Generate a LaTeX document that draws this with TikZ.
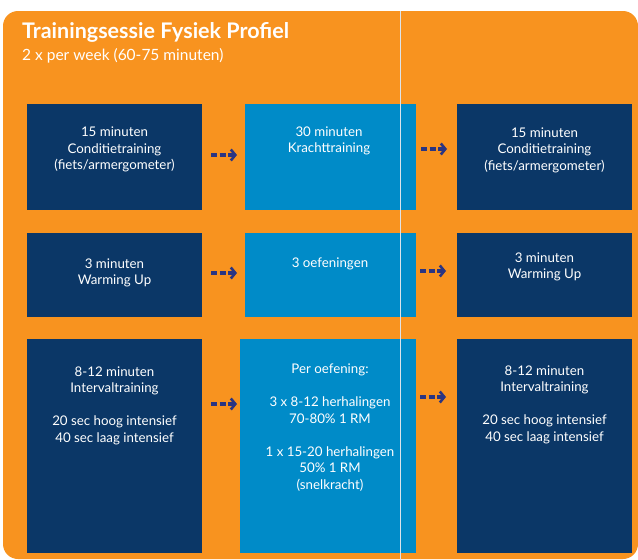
\documentclass[tikz,border=0pt]{standalone}
\usepackage{fontspec}
\setmainfont{Lato}
\usetikzlibrary{arrows.meta}
\definecolor{bgorange}{HTML}{F8931F}
\definecolor{navy}{HTML}{0B3767}
\definecolor{midblue}{HTML}{008BC8}
\definecolor{arrowc}{HTML}{2A3582}
\definecolor{vline}{HTML}{DCE3EA}
\begin{document}
\begin{tikzpicture}[x=1pt,y=-1pt,
 box/.style={draw=none, inner sep=0pt, outer sep=0pt, anchor=north west},
 dark/.style={box, fill=navy},
 light/.style={box, fill=midblue},
 txt/.style={text=white, font=\fontsize{13.3}{16.5}\selectfont, align=center, inner sep=0pt},
 arr/.style={draw=arrowc, line width=3.4pt, dash pattern=on 6pt off 2.5pt, -{Straight Barb[length=4.5pt,width=11pt,line width=2.6pt]}}]
\useasboundingbox (0,0) rectangle (638,560);
\fill[white] (0,0) rectangle (638,560);
\fill[bgorange, rounded corners=15pt] (3,11) rectangle (638,559);
% title
\node[anchor=base west, inner sep=0pt, text=white, font=\fontsize{21.5}{24}\selectfont\bfseries] (title) at (22,38) {Trainingsessie Fysiek Profiel};
\node[anchor=base west, inner sep=0pt, text=white, font=\fontsize{15.5}{18}\selectfont] (sub) at (22,60) {2 x per week (60-75 minuten)};
% boxes
\node[dark, minimum width=175pt, minimum height=106pt] (l1) at (27,104) {};
\node[light, minimum width=171pt, minimum height=106pt] (m1) at (245,104) {};
\node[dark, minimum width=175pt, minimum height=106pt] (r1) at (457,104) {};
\node[dark, minimum width=175pt, minimum height=84pt] (l2) at (27,233) {};
\node[light, minimum width=171pt, minimum height=84pt] (m2) at (245,233) {};
\node[dark, minimum width=175pt, minimum height=84pt] (r2) at (457,233) {};
\node[dark, minimum width=175pt, minimum height=214pt] (l3) at (27,339) {};
\node[light, minimum width=176pt, minimum height=214pt] (m3) at (240,339) {};
\node[dark, minimum width=175pt, minimum height=214pt] (r3) at (457,339) {};
% vertical line
\draw[vline, line width=1pt] (400,11) -- (400,560);
% texts
\node[txt] (tl1) at (114.5,149.5) {15 minuten\\Conditietraining\\(fiets/armergometer)};
\node[txt] (tm1) at (329,141) {30 minuten\\Krachttraining};
\node[txt] (tr1) at (544.5,150) {15 minuten\\Conditietraining\\(fiets/armergometer)};
\node[txt] (tl2) at (114.5,273) {3 minuten\\Warming Up};
\node[txt] (tm2) at (330,264) {3 oefeningen};
\node[txt] (tr2) at (544.5,267) {3 minuten\\Warming Up};
\node[txt] (tl3) at (114.5,405.5) {8-12 minuten\\Intervaltraining\\[16.5pt]20 sec hoog intensief\\40 sec laag intensief};
\node[txt] (tm3) at (330,427.5) {Per oefening:\\[16.5pt]3 x 8-12 herhalingen\\70-80\% 1 RM\\[16.5pt]1 x 15-20 herhalingen\\50\% 1 RM\\(snelkracht)};
\node[txt] (tr3) at (544.5,404.5) {8-12 minuten\\Intervaltraining\\[16.5pt]20 sec hoog intensief\\40 sec laag intensief};
% arrows
\draw[arr, shorten <=9pt, shorten >=8pt] (l1.east |- 0,155) -- (m1.west |- 0,155);
\draw[arr, shorten <=5pt, shorten >=10pt] (m1.east |- 0,149) -- (r1.west |- 0,149);
\draw[arr, shorten <=9pt, shorten >=8pt] (l2.east |- 0,273) -- (m2.west |- 0,273);
\draw[arr, shorten <=4pt, shorten >=11pt] (m2.east |- 0,271) -- (r2.west |- 0,271);
\draw[arr, shorten <=9pt, shorten >=3pt] (l3.east |- 0,404) -- (m3.west |- 0,404);
\draw[arr, shorten <=4pt, shorten >=11pt] (m3.east |- 0,397) -- (r3.west |- 0,397);
\end{tikzpicture}
\end{document}
